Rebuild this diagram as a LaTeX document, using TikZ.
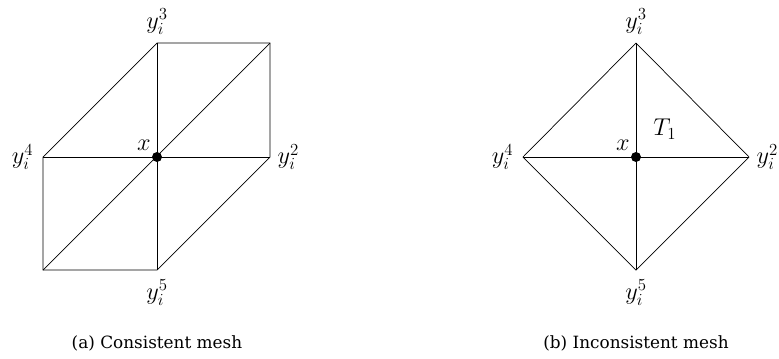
\documentclass[tikz,border=0pt]{standalone}
\usepackage{fontspec}
\setmainfont{DejaVu Serif}
\usetikzlibrary{positioning}

\begin{document}
\begin{tikzpicture}[x=0.025cm, y=-0.025cm,
      every node/.style={font=\fontsize{17}{19}\selectfont},
      edge/.style={line width=0.5pt, draw=black},
      dot/.style={circle, fill=black, inner sep=0pt, minimum size=0.25cm},
      lbl/.style={inner sep=1pt},
      caption/.style={font=\fontsize{12}{14}\selectfont}
    ]
    \useasboundingbox (0,0) rectangle (779,358);

    % (a) consistent mesh
    \coordinate (a0) at (157,157);
    \coordinate (a2) at (270,157);
    \coordinate (a3) at (157,43);
    \coordinate (a4) at (43,157);
    \coordinate (a5) at (157,270);
    \coordinate (a23) at (270,43);
    \coordinate (a45) at (43,270);
    \draw[edge] (a4) -- (a3) -- (a23) -- (a2) -- (a5) -- (a45) -- cycle;
    \draw[edge] (a4) -- (a2);
    \draw[edge] (a3) -- (a5);
    \draw[edge] (a45) -- (a23);
    \node[dot] (ax) at (a0) {};
    \node[lbl, above left=0.03cm of ax] {$x$};
    \node[lbl, above=0.18cm of a3] {$y_i^3$};
    \node[lbl, left=0.2cm of a4] {$y_i^4$};
    \node[lbl, right=0.15cm of a2] {$y_i^2$};
    \node[lbl, below=0.2cm of a5] (a5lbl) {$y_i^5$};
    \node[caption, below=0.6cm of a5lbl] {(a) Consistent mesh};

    % (b) inconsistent mesh
    \coordinate (b0) at (636,157);
    \coordinate (b2) at (749,157);
    \coordinate (b3) at (636,43);
    \coordinate (b4) at (523,157);
    \coordinate (b5) at (636,270);
    \draw[edge] (b2) -- (b3) -- (b4) -- (b5) -- cycle;
    \draw[edge] (b4) -- (b2);
    \draw[edge] (b3) -- (b5);
    \node[dot] (bx) at (b0) {};
    \node[lbl, above left=0.03cm of bx] {$x$};
    \node[lbl, above right=0.3cm and 0.3cm of bx] {$T_1$};
    \node[lbl, above=0.18cm of b3] {$y_i^3$};
    \node[lbl, left=0.2cm of b4] {$y_i^4$};
    \node[lbl, right=0.15cm of b2] {$y_i^2$};
    \node[lbl, below=0.2cm of b5] (b5lbl) {$y_i^5$};
    \node[caption, below=0.6cm of b5lbl] {(b) Inconsistent mesh};
  \end{tikzpicture}
\end{document}
